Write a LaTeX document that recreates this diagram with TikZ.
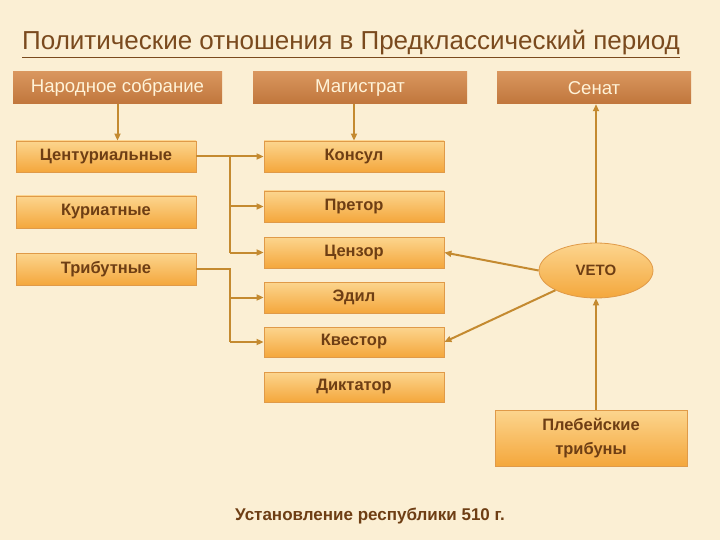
\documentclass[tikz,border=0pt]{standalone}
\usepackage{fontspec}
\setmainfont{Liberation Sans}
\usetikzlibrary{arrows.meta,shapes.geometric}
\definecolor{bgcol}{HTML}{FBEFD4}
\definecolor{titlecol}{HTML}{7A4A1E}
\definecolor{textcol}{HTML}{6E3E14}
\definecolor{headtext}{HTML}{FFF3D8}
\definecolor{linecol}{HTML}{C48A30}
\definecolor{boxtop}{HTML}{FCD58E}
\definecolor{boxbot}{HTML}{F4A73C}
\definecolor{boxline}{HTML}{E09A48}
\definecolor{headtop}{HTML}{D9965E}
\definecolor{headbot}{HTML}{C0763C}
\tikzset{
  ybox/.style={draw=boxline, line width=0.8pt, top color=boxtop, bottom color=boxbot,
    minimum width=180pt, minimum height=31pt, inner sep=0pt, text=textcol,
    font=\bfseries\fontsize{16.5}{24}\selectfont, align=center},
  hbox/.style={draw=none, top color=headtop, bottom color=headbot,
    minimum height=32pt, inner sep=0pt, text=headtext,
    font=\fontsize{18.6}{22}\selectfont},
  link/.style={draw=linecol, line width=2pt},
  arr/.style={link, -{Triangle[length=7pt,width=6pt]}},
}
\begin{document}
\begin{tikzpicture}[x=1pt,y=-1pt]
\fill[bgcol] (0,0) rectangle (720,540);
\useasboundingbox (0,0) rectangle (720,540);

\node[text=titlecol, font=\fontsize{26}{30}\selectfont, anchor=base] (title) at (351,50) {\underline{Политические отношения в Предклассический период}};

\node[hbox, minimum width=209pt] (h1) at (117.5,88) {Народное собрание};
\node[hbox, minimum width=214pt] (h2) at (360,88) {Магистрат};
\node[hbox, minimum width=194pt] (h3) at (594,88) {Сенат};

\node[ybox] (c1) at (106,156.5) {Центуриальные};
\node[ybox, minimum height=32pt] (c2) at (106,212) {Куриатные};
\node[ybox, minimum height=32pt] (c3) at (106,269) {Трибутные};

\node[ybox] (m1) at (354,156.5) {Консул};
\node[ybox] (m2) at (354,206.5) {Претор};
\node[ybox] (m3) at (354,252.5) {Цензор};
\node[ybox] (m4) at (354,297.5) {Эдил};
\node[ybox, minimum height=30pt] (m5) at (354,342) {Квестор};
\node[ybox, minimum height=30pt] (m6) at (354,387) {Диктатор};

\node[ybox, ellipse, minimum width=114pt, minimum height=55pt, font=\bfseries\fontsize{15}{18}\selectfont] (veto) at (596,270.5) {VETO};

\node[ybox, minimum width=192pt, minimum height=56pt] (pleb) at (591,438) {Плебейские\\трибуны};

\node[text=textcol, font=\bfseries\fontsize{17}{21}\selectfont, anchor=base] (year) at (370,520) {Установление республики 510 г.};

\draw[arr] (h1.south) -- (h1.south |- c1.north);
\draw[arr] (h2.south -| m1.north) -- (m1.north);
\draw[arr] (veto.north) -- (veto.north |- h3.south);
\draw[arr] (pleb.north -| veto.south) -- (veto.south);

\coordinate (j1) at (230,156.5);
\coordinate (j2) at (230,269);
\draw[arr] (c1.east) -- (m1.west);
\draw[link] (j1) -- (j1 |- m3.west);
\draw[arr] (j1 |- m2.west) -- (m2.west);
\draw[arr] (j1 |- m3.west) -- (m3.west);
\draw[link] (c3.east) -- (j2) -- (j2 |- m5.west);
\draw[arr] (j2 |- m4.west) -- (m4.west);
\draw[arr] (j2 |- m5.west) -- (m5.west);

\draw[arr] (veto.west) -- (m3.east);
\draw[arr] (veto.south west) -- (m5.east);
\end{tikzpicture}
\end{document}
